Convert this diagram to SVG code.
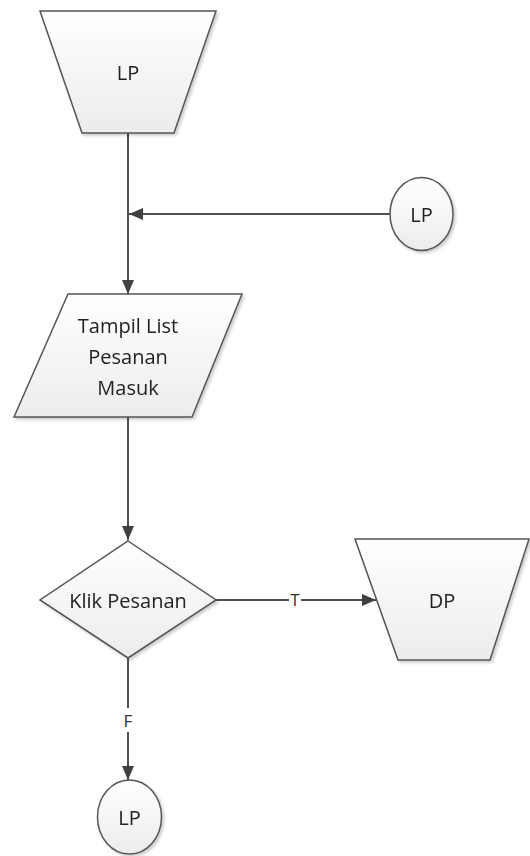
<svg xmlns="http://www.w3.org/2000/svg" width="530" height="856" viewBox="0 0 530 856">
<style>
.s{stroke:#555;stroke-width:1.5;fill:url(#g)}
.c{stroke:#505050;stroke-width:2;fill:none}
.t{font-family:"Open Sans",sans-serif;font-size:20px;fill:#222;text-anchor:middle;dominant-baseline:central}
.l{font-family:"Open Sans",sans-serif;font-size:17px;fill:#333;text-anchor:middle;dominant-baseline:central}
</style>
<defs>
<linearGradient id="g" x1="0" y1="0" x2="0" y2="1">
<stop offset="0" stop-color="#ffffff"/>
<stop offset="1" stop-color="#ececec"/>
</linearGradient>
<filter id="sh" x="-10%" y="-10%" width="130%" height="130%">
<feDropShadow dx="2" dy="2" stdDeviation="1.5" flood-color="#000" flood-opacity="0.2"/>
</filter>
<marker id="a" viewBox="0 0 14 12" refX="14" refY="6" markerWidth="14" markerHeight="12" markerUnits="userSpaceOnUse" orient="auto">
<path d="M0,0 L14,6 L0,12 Z" fill="#404040"/>
</marker>
</defs>
<g id="connectors">
<line class="c" x1="128" y1="133" x2="128" y2="294" marker-end="url(#a)"/>
<line class="c" x1="390" y1="214" x2="129" y2="214" marker-end="url(#a)"/>
<line class="c" x1="128" y1="417" x2="128" y2="540" marker-end="url(#a)"/>
<line class="c" x1="216" y1="600" x2="289" y2="600"/>
<line class="c" x1="301" y1="600" x2="376" y2="600" marker-end="url(#a)"/>
<text class="l" x="295" y="599">T</text>
<line class="c" x1="128" y1="658" x2="128" y2="708"/>
<line class="c" x1="128" y1="732" x2="128" y2="780" marker-end="url(#a)"/>
<text class="l" x="128" y="720">F</text>
</g>
<g id="lp-top" filter="url(#sh)">
<polygon class="s" points="40,11 216,11 174,133 82,133"/>
<text class="t" x="128" y="72">LP</text>
</g>
<g id="lp-connector-in" filter="url(#sh)">
<ellipse class="s" cx="421.5" cy="214" rx="31.5" ry="36.5"/>
<text class="t" x="421.5" y="214">LP</text>
</g>
<g id="tampil" filter="url(#sh)">
<polygon class="s" points="68,294 242,294 192,417 14,417"/>
<text class="t" x="128" y="325">Tampil List</text>
<text class="t" x="128" y="356">Pesanan</text>
<text class="t" x="128" y="387">Masuk</text>
</g>
<g id="klik" filter="url(#sh)">
<polygon class="s" points="128,541 216,600 128,658 40,600"/>
<text class="t" x="128" y="600">Klik Pesanan</text>
</g>
<g id="dp" filter="url(#sh)">
<polygon class="s" points="355,539 529,539 490,660 398,660"/>
<text class="t" x="442" y="600">DP</text>
</g>
<g id="lp-connector-out" filter="url(#sh)">
<ellipse class="s" cx="129.5" cy="817" rx="32" ry="37"/>
<text class="t" x="129.5" y="817">LP</text>
</g>
</svg>
